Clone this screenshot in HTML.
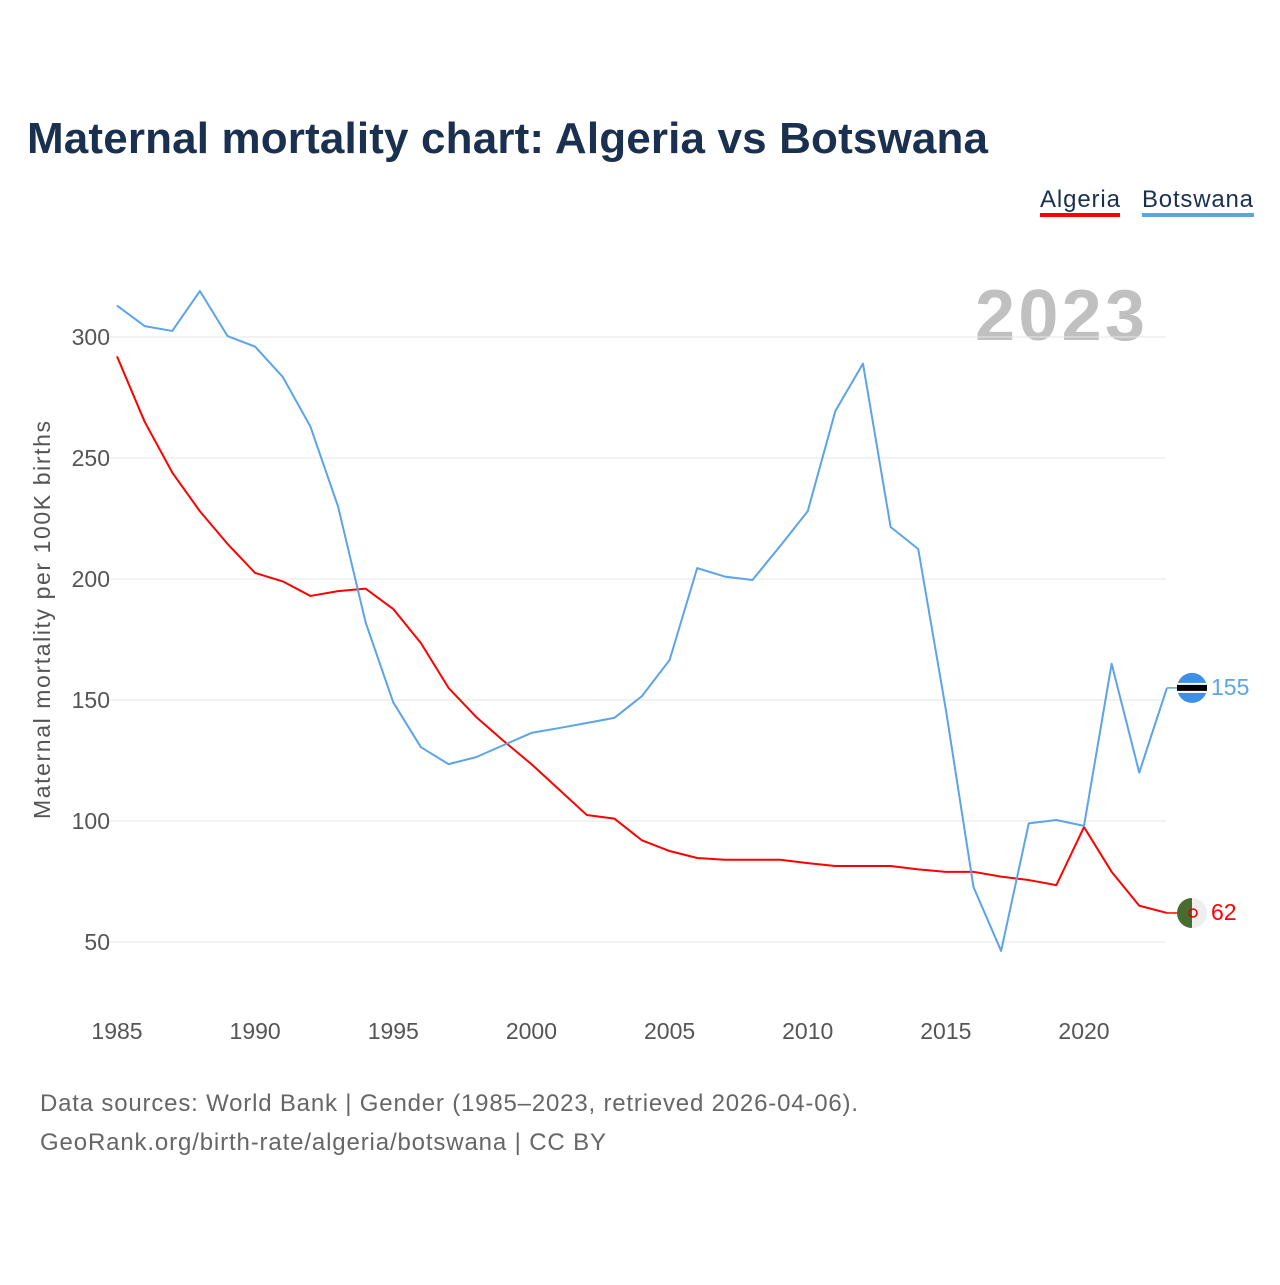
<!DOCTYPE html>
<html><head><meta charset="utf-8"><style>
body{margin:0;background:#fff;width:1280px;height:1280px;overflow:hidden;font-family:"Liberation Sans",sans-serif}
</style></head><body>
<svg id="c" width="1280" height="1280" xmlns="http://www.w3.org/2000/svg">
<text x="27" y="153" font-size="44" font-weight="bold" fill="#1a3050" textLength="961">Maternal mortality chart: Algeria vs Botswana</text>
<g><text x="1040" y="207" font-size="24" fill="#1a3050" textLength="80">Algeria</text><rect x="1040" y="213" width="80" height="4" fill="#ff0000"/></g>
<g><text x="1142" y="207" font-size="24" fill="#1a3050" textLength="111">Botswana</text><rect x="1142" y="213" width="112" height="4" fill="#5ba4e8"/></g>
<text x="1145" y="340" font-size="72" font-weight="bold" fill="#c0c0c0" text-anchor="end" textLength="170">2023</text>
<g id="grid"></g><g id="ax"></g><g id="lines"></g>
<text transform="translate(50,620) rotate(-90)" font-size="23" fill="#555" text-anchor="middle" textLength="398">Maternal mortality per 100K births</text>
<text x="40" y="1111" font-size="24" fill="#666" textLength="818">Data sources: World Bank | Gender (1985–2023, retrieved 2026-04-06).</text>
<text x="40" y="1150" font-size="24" fill="#666" textLength="566">GeoRank.org/birth-rate/algeria/botswana | CC BY</text>
</svg>
<script>
const years=[];for(let y=1985;y<=2023;y++)years.push(y);
const algeria=[292,265,244,228,214.5,202.5,199,193,195,196,187.6,173.5,155,143,133,123.5,113,102.5,101,92,87.6,84.7,84,84,84,82.6,81.4,81.4,81.4,80,79,79,77,75.6,73.5,97.5,79,65,62];
const botswana=[313,304.5,302.5,319,300.4,296,283.5,263,230,182,149,130.5,123.5,126.4,131.4,136.4,138.4,140.5,142.6,151.6,166.5,204.5,201,199.6,213.6,228,269.4,289,221.5,212.4,146,72.7,46.3,99,100.4,98,165,120,155];
const yTicks=[50,100,150,200,250,300];
const xTicks=[1985,1990,1995,2000,2005,2010,2015,2020];
const X=y=>117+(y-1985)*(1084-117)/35;
const Y=v=>942-(v-50)*605/250;
const ns="http://www.w3.org/2000/svg";
function mk(t,p,a){const e=document.createElementNS(ns,t);for(const k in a)e.setAttribute(k,a[k]);p.appendChild(e);return e;}
const grid=document.getElementById('grid'),ax=document.getElementById('ax'),lines=document.getElementById('lines');
yTicks.forEach(v=>{const l=mk('line',grid,{x1:110,x2:1166,y1:Y(v),y2:Y(v),stroke:'#e6e6e6'});


const t=mk('text',ax,{x:110,y:Y(v)+8,'font-size':23,fill:'#555','text-anchor':'end'});t.textContent=v;

});
xTicks.forEach(v=>{const t=mk('text',ax,{x:X(v),y:1039,'font-size':23,fill:'#555','text-anchor':'middle'});t.textContent=v;

});
function series(d,c,name){const p=mk('polyline',lines,{points:d.map((v,i)=>X(years[i])+','+Y(v)).join(' '),fill:'none',stroke:c,'stroke-width':2,'stroke-linejoin':'round'});


const last=d[d.length-1],ly=Y(last);
mk('line',lines,{x1:X(2023),x2:1178,y1:ly,y2:ly,stroke:c,'stroke-width':1.5});
const t=mk('text',lines,{x:1211,y:ly+7,'font-size':23,fill:c});t.textContent=last;


return ly;}
const ba=series(algeria,'#ff0000','algeria-line');
const bb=series(botswana,'#5ba4e8','botswana-line');
let g=mk('g',lines,{});
mk('circle',g,{cx:1192,cy:bb,r:15,fill:'#3d8fe8'});mk('rect',g,{x:1177,y:bb-5,width:30,height:10,fill:'#fff'});mk('rect',g,{x:1177,y:bb-3,width:30,height:6,fill:'#000'});
g=mk('g',lines,{});
mk('circle',g,{cx:1192,cy:ba,r:15,fill:'#eee'});mk('path',g,{d:`M1192 ${ba-15} A15 15 0 0 0 1192 ${ba+15} Z`,fill:'#4a6b30'});
mk('circle',g,{cx:1193,cy:ba,r:4,fill:'none',stroke:'#d00','stroke-width':1.5});
</script>
</body></html>
